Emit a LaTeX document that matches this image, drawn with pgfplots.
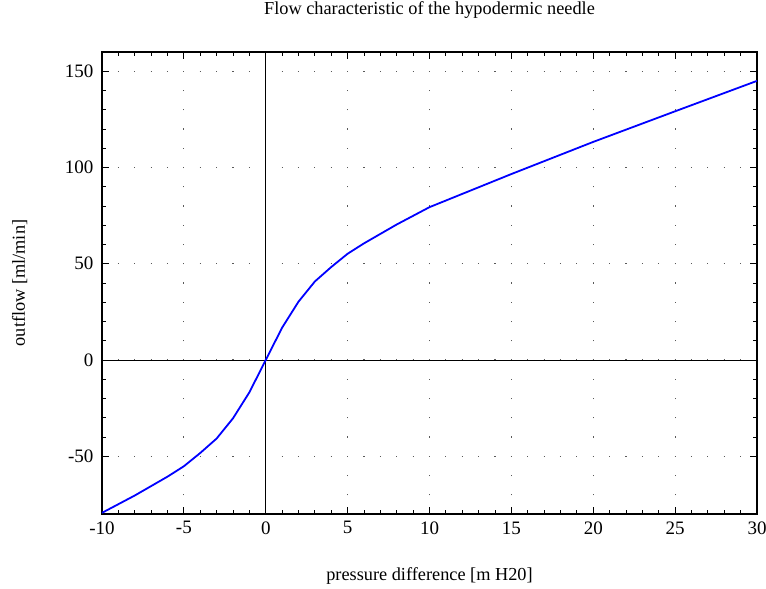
\documentclass[border=0pt]{standalone}
\usepackage{pgfplots}
\pgfplotsset{compat=1.18}
\usepackage{fontspec}
\setmainfont{Liberation Serif}

% flow vs pressure
\pgfplotstableread{
dp    q
-10  -79.4
-8   -70.4
-6   -60.6
-5   -55.2
-4   -48.3
-3   -40.8
-2   -30.3
-1   -16.8
0     0
1    16.8
2    30.3
3    40.8
4    48.3
5    55.2
6    60.6
8    70.4
10   79.4
15   96.6
20  113.3
25  129.2
30  145.0
}\flowdata

\begin{document}
\begin{tikzpicture}
\useasboundingbox (-102bp,-75bp) rectangle (664bp,514bp);
\begin{axis}[
  scale only axis, width=655bp, height=462bp,
  xmin=-10, xmax=30, ymin=-80, ymax=160,
  xtick={-10,-5,...,30},
  xticklabels={{-10},{-5},{0},{5},{10},{15},{20},{25},{30}},
  ytick={-50,0,50,100,150},
  yticklabels={{-50},{0},{50},{100},{150}},
  minor x tick num=4, minor y tick num=4,
  tick align=inside,
  major tick length=7bp, minor tick length=4bp,
  every tick/.style={black, line width=0.8bp},
  axis line style={line width=1.6bp},
  xmajorgrids, ymajorgrids,
  major x grid style={black!65, line width=1.1bp, dash pattern=on 1.1bp off 18.15bp, dash phase=0.55bp},
  major y grid style={black!65, line width=1.1bp, dash pattern=on 1.1bp off 15.275bp, dash phase=0.55bp},
  tick label style={font=\fontsize{19bp}{20bp}\selectfont},
  yticklabel style={xshift=-5bp},
  xticklabel style={yshift=-4bp},
  title={Flow characteristic of the hypodermic needle},
  title style={font=\fontsize{18.3bp}{20bp}\selectfont, at={(axis description cs:0.5,1.069)}, anchor=base},
  xlabel={pressure difference [m H20]},
  ylabel={outflow [ml/min]},
  every axis x label/.style={font=\fontsize{18.3bp}{20bp}\selectfont, at={(axis description cs:0.5,-0.143)}, anchor=base},
  every axis y label/.style={font=\fontsize{18.3bp}{20bp}\selectfont, at={(axis description cs:-0.1176,0.5)}, anchor=base, rotate=90},
]
\draw[black, line width=0.9bp] (axis cs:0,-80) -- (axis cs:0,160);
\draw[black, line width=0.9bp] (axis cs:-10,0) -- (axis cs:30,0);
\addplot[blue, line width=1.8bp, mark=none] table[x=dp, y=q] {\flowdata};
\end{axis}
\end{tikzpicture}
\end{document}
